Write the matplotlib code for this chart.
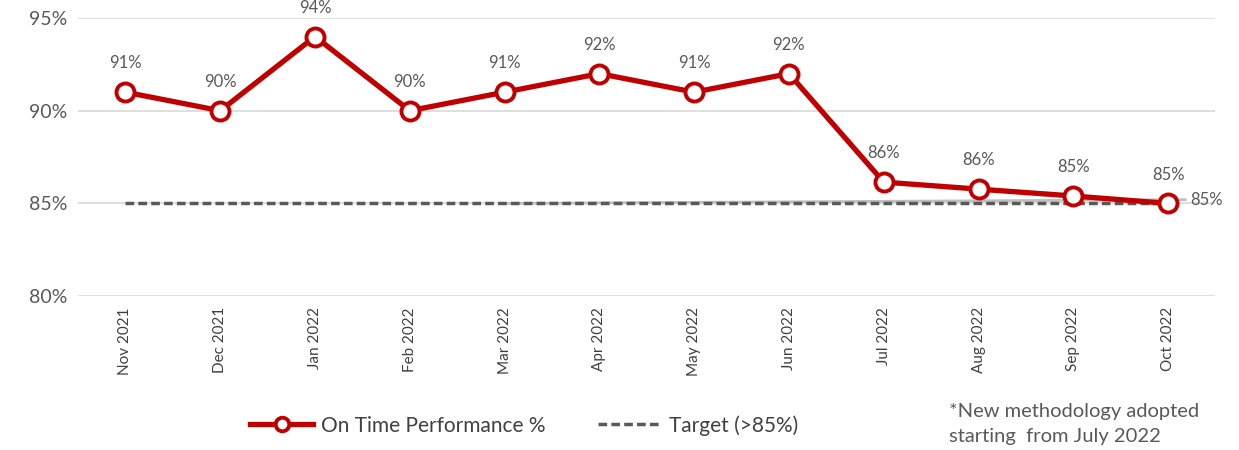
import matplotlib.pyplot as plt

months = ["Nov 2021", "Dec 2021", "Jan 2022", "Feb 2022", "Mar 2022", "Apr 2022",
          "May 2022", "Jun 2022", "Jul 2022", "Aug 2022", "Sep 2022", "Oct 2022"]
otp = [91, 90, 94, 90, 91, 92, 91, 92, 86.15, 85.77, 85.4, 85.0]
target = [85] * 12
# faint grey trend line (Mar 2022 -> Oct 2022 end)
trend_x = [4, 11.18]
trend_y = [85.0, 85.2]
trend_label = "85%"

plt.rcParams["font.family"] = ["Lato", "DejaVu Sans"]

RED = "#C00000"
GREY = "#595959"

fig = plt.figure(figsize=(12.39, 4.5), dpi=100)
ax = fig.add_axes([0.063, 0.342, 0.918, 0.618])

x = list(range(len(months)))

ax.plot(trend_x, trend_y, color="#BFBFBF", lw=2, zorder=2)
ax.text(trend_x[-1] + 0.05, trend_y[-1], trend_label, color=GREY, fontsize=12,
        va="center", ha="left")

ax.plot(x, target, color=GREY, lw=2.5, ls=(0, (2.5, 1.2)), label="Target (>85%)", zorder=3)
ax.plot(x, otp, color=RED, lw=3.8, marker="o", markersize=13,
        markerfacecolor="white", markeredgecolor=RED, markeredgewidth=2.8,
        label="On Time Performance %", zorder=4)

for xi, v in zip(x, otp):
    ax.annotate(f"{round(v)}%", (xi, v), xytext=(0, 15), textcoords="offset points",
                ha="center", va="bottom", fontsize=12, color=GREY, clip_on=False)

ax.set_xlim(-0.5, 11.5)
ax.set_ylim(80, 95)
ax.set_yticks([80, 85, 90, 95])
ax.set_yticklabels(["80%", "85%", "90%", "95%"], fontsize=14, color=GREY)
ax.set_xticks(x)
ax.set_xticklabels(months, rotation=90, fontsize=11, color="#404040")
ax.tick_params(length=0, pad=8)
ax.yaxis.grid(True, color="#D9D9D9", lw=1.2)
ax.set_axisbelow(True)
for s in ax.spines.values():
    s.set_visible(False)

handles, labels = ax.get_legend_handles_labels()
order = [labels.index("On Time Performance %"), labels.index("Target (>85%)")]
fig.legend([handles[i] for i in order], [labels[i] for i in order],
           loc="center", bbox_to_anchor=(0.423, 0.055), ncol=2, frameon=False,
           fontsize=15, handlelength=3.0, handletextpad=0.4, columnspacing=2.5,
           markerscale=0.75, labelcolor="#404040")

fig.text(0.766, 0.012, "*New methodology adopted\nstarting  from July 2022",
         fontsize=14.5, color=GREY, ha="left", va="bottom", linespacing=1.55)

fig.savefig("out.png", dpi=100)
